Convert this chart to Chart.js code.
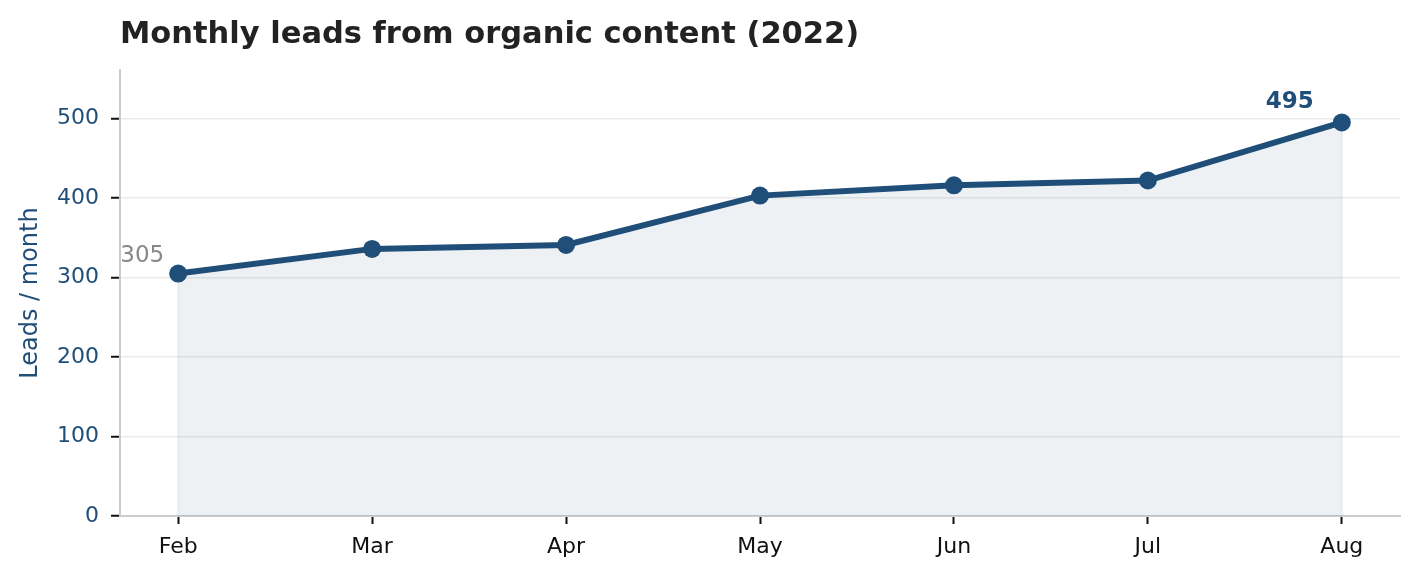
<!DOCTYPE html>
<html>
<head>
<meta charset="utf-8">
<script src="https://cdn.jsdelivr.net/npm/chart.js@4.4.0/dist/chart.umd.min.js"></script>
<style>
  html, body { margin: 0; padding: 0; background: #fff; }
  #wrap { width: 1420px; height: 580px; position: relative; }
</style>
</head>
<body>
<div id="wrap"><canvas id="leads"></canvas></div>
<script>
const months = ['Feb', 'Mar', 'Apr', 'May', 'Jun', 'Jul', 'Aug'];
const leads = [305, 336, 341, 403, 416, 422, 495];
const yTicks = [0, 100, 200, 300, 400, 500];
const titleText = 'Monthly leads from organic content (2022)';
const yTitle = 'Leads / month';

const navy = '#1f4e79';
const font = 'DejaVu Sans';

const ctx = document.querySelector('#leads').getContext('2d');

// title, edge lines of the fill, and the two value labels
const extras = {
    id: 'extras',
    beforeDatasetsDraw(chart) {
        const { ctx, scales: { x, y } } = chart;
        ctx.save();
        ctx.strokeStyle = 'rgba(31,78,121,0.07)';
        ctx.lineWidth = 2;
        [0, leads.length - 1].forEach(i => {
            ctx.beginPath();
            ctx.moveTo(x.getPixelForValue(i), y.getPixelForValue(leads[i]));
            ctx.lineTo(x.getPixelForValue(i), y.getPixelForValue(0));
            ctx.stroke();
        });
        ctx.restore();
    },
    afterDraw(chart) {
        const { ctx, chartArea, scales: { x, y } } = chart;
        ctx.save();
        ctx.fillStyle = '#222';
        ctx.font = `bold 30.5px "${font}"`;
        ctx.textAlign = 'left';
        ctx.textBaseline = 'alphabetic';
        ctx.fillText(titleText, chartArea.left, 43);

        const first = 0, last = leads.length - 1;
        ctx.textAlign = 'right';
        ctx.fillStyle = '#888';
        ctx.font = `23px "${font}"`;
        ctx.fillText(String(leads[first]), x.getPixelForValue(first) - 14, y.getPixelForValue(leads[first]) - 12);

        ctx.fillStyle = navy;
        ctx.font = `bold 23px "${font}"`;
        ctx.fillText(String(leads[last]), x.getPixelForValue(last) - 28, y.getPixelForValue(leads[last]) - 14);
        ctx.restore();
    }
};

new Chart(ctx, {
    type: 'line',
    data: {
        datasets: [{
            data: leads.map((v, i) => ({ x: i, y: v })),
            borderColor: navy,
            borderWidth: 6,
            backgroundColor: 'rgba(31,78,121,0.08)',
            fill: 'origin',
            tension: 0,
            pointRadius: 9,
            pointBackgroundColor: navy,
            pointBorderWidth: 0
        }]
    },
    options: {
        responsive: true,
        maintainAspectRatio: false,
        animation: false,
        layout: { padding: { top: 70, left: 14, right: 20, bottom: 0 } },
        plugins: {
            legend: { display: false },
            tooltip: { enabled: false }
        },
        scales: {
            x: {
                type: 'linear',
                min: -0.3,
                max: 6.3,
                afterBuildTicks: scale => { scale.ticks = months.map((m, i) => ({ value: i })); },
                afterFit: scale => { scale.height = 64; },
                ticks: {
                    callback: v => months[v],
                    color: '#111',
                    font: { family: font, size: 22 },
                    padding: 10,
                    maxRotation: 0
                },
                grid: {
                    drawOnChartArea: false,
                    tickLength: 8,
                    tickWidth: 2,
                    tickColor: '#111'
                },
                border: { color: '#cccccc', width: 2 }
            },
            y: {
                min: 0,
                max: 561,
                afterBuildTicks: scale => { scale.ticks = yTicks.map(v => ({ value: v })); },
                afterFit: scale => { scale.width = 106; },
                ticks: {
                    color: navy,
                    font: { family: font, size: 22 },
                    padding: 12
                },
                grid: {
                    color: '#ebebeb',
                    lineWidth: 1.5,
                    tickLength: 9,
                    tickWidth: 2,
                    tickColor: '#111'
                },
                border: { color: '#cccccc', width: 2 },
                title: {
                    display: true,
                    text: yTitle,
                    color: navy,
                    font: { family: font, size: 24 },
                    padding: { top: 2, bottom: 0 }
                }
            }
        }
    },
    plugins: [extras]
});
</script>
</body>
</html>
